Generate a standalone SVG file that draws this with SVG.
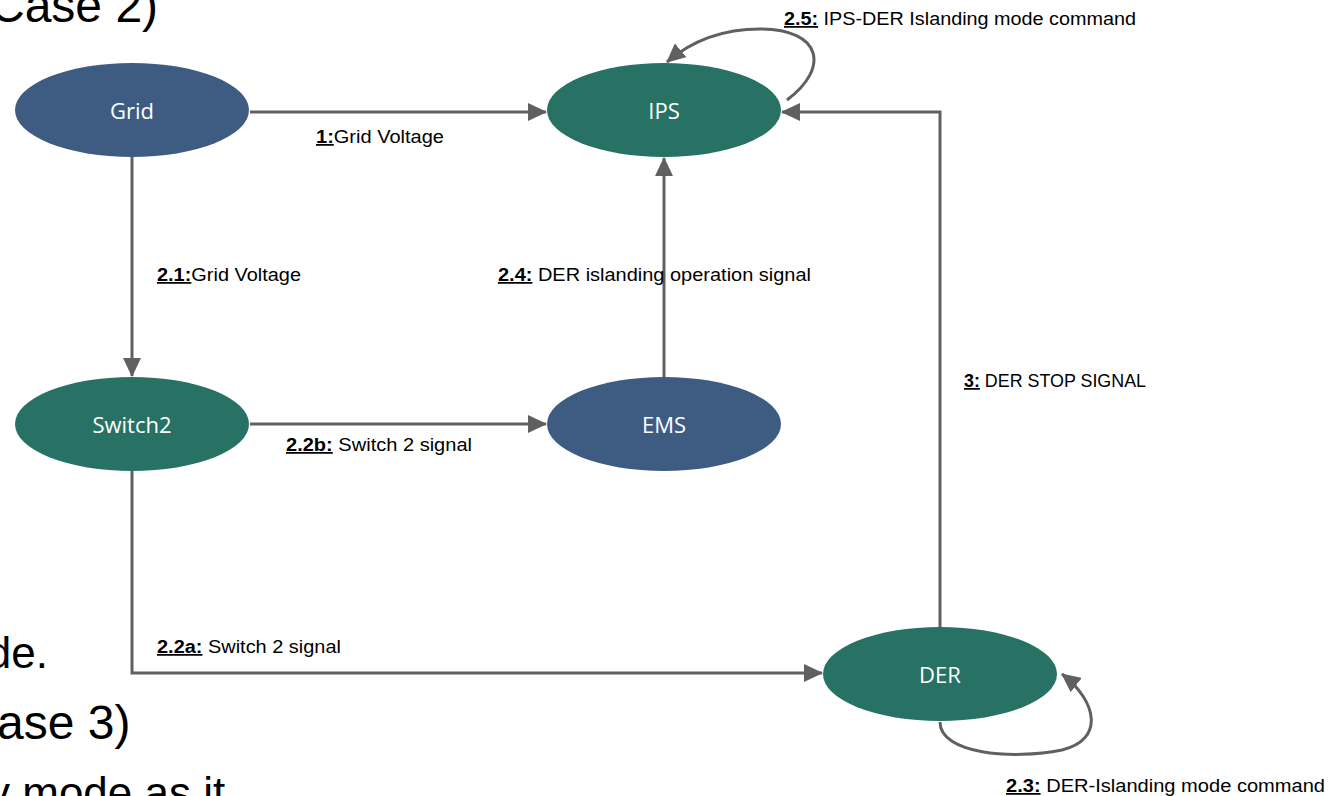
<svg xmlns="http://www.w3.org/2000/svg" width="1332" height="796" viewBox="0 0 1332 796">
  <style>
    .bg { font-family: "Liberation Sans", Arial, sans-serif; font-size: 48px; fill: #000; }
    .node-blue { fill: #3E5C82; }
    .node-green { fill: #287165; }
    .node-text { font-family: "Open Sans", "Liberation Sans", sans-serif; font-size: 22px; fill: #fff; text-anchor: middle; dominant-baseline: central; }
    .edge { fill: none; stroke: #606060; stroke-width: 3; }
    .lbl { font-family: "Liberation Sans", Arial, sans-serif; font-size: 17.5px; fill: #000; }
    .num { font-weight: bold; text-decoration: underline; }
  </style>
  <defs>
    <marker id="arrow" markerUnits="userSpaceOnUse" markerWidth="20" markerHeight="18" refX="18" refY="9" orient="auto">
      <path d="M0,0 L19,9 L0,18 Z" fill="#606060"/>
    </marker>
  </defs>
  <rect width="1332" height="796" fill="#fff"/>

  <!-- slide text behind the diagram -->
  <g id="slide-text">
    <text class="bg" x="-10" y="22">Case 2)</text>
    <text class="bg" x="48" y="668" text-anchor="end" style="font-size:44px">de.</text>
    <text class="bg" x="-3" y="739">ase 3)</text>
    <text class="bg" x="-12" y="808" style="font-size:44px">y mode as it</text>
  </g>

  <!-- connectors -->
  <g id="connectors">
    <path class="edge" d="M250,112 L546,112" marker-end="url(#arrow)"/>
    <path class="edge" d="M132,157 L132,376" marker-end="url(#arrow)"/>
    <path class="edge" d="M250,424 L546,424" marker-end="url(#arrow)"/>
    <path class="edge" d="M132,471 L132,673 L822,673" marker-end="url(#arrow)"/>
    <path class="edge" d="M664,377 L664,158" marker-end="url(#arrow)"/>
    <path class="edge" d="M940,627 L940,112 L782,112" marker-end="url(#arrow)"/>
    <path class="edge" d="M787,100 C830,68 822,29 760,29 C718,29 688,44 667,62" marker-end="url(#arrow)"/>
    <path class="edge" d="M940,722 C940,754 1012,760 1062,750 C1104,740 1098,702 1062,674" marker-end="url(#arrow)"/>

    <text class="lbl" x="316" y="143" textLength="128" lengthAdjust="spacingAndGlyphs"><tspan class="num">1:</tspan>Grid Voltage</text>
    <text class="lbl" x="157" y="281" textLength="144" lengthAdjust="spacingAndGlyphs"><tspan class="num">2.1:</tspan>Grid Voltage</text>
    <text class="lbl" x="286" y="451" textLength="186" lengthAdjust="spacingAndGlyphs"><tspan class="num">2.2b:</tspan> Switch 2 signal</text>
    <text class="lbl" x="157" y="653" textLength="184" lengthAdjust="spacingAndGlyphs"><tspan class="num">2.2a:</tspan> Switch 2 signal</text>
    <text class="lbl" x="498" y="281" textLength="313" lengthAdjust="spacingAndGlyphs"><tspan class="num">2.4:</tspan> DER islanding operation signal</text>
    <text class="lbl" x="964" y="387" textLength="182" lengthAdjust="spacingAndGlyphs"><tspan class="num">3:</tspan> DER STOP SIGNAL</text>
    <text class="lbl" x="784" y="25" textLength="352" lengthAdjust="spacingAndGlyphs"><tspan class="num">2.5:</tspan> IPS-DER Islanding mode command</text>
    <text class="lbl" x="1006" y="792" textLength="319" lengthAdjust="spacingAndGlyphs"><tspan class="num">2.3:</tspan> DER-Islanding mode command</text>
  </g>

  <!-- nodes -->
  <g id="grid">
    <ellipse class="node-blue" cx="132" cy="110" rx="117" ry="47"/>
    <text class="node-text" x="132" y="110">Grid</text>
  </g>
  <g id="ips">
    <ellipse class="node-green" cx="664" cy="110" rx="117" ry="47"/>
    <text class="node-text" x="664" y="110">IPS</text>
  </g>
  <g id="switch2">
    <ellipse class="node-green" cx="132" cy="424" rx="117" ry="47"/>
    <text class="node-text" x="132" y="424">Switch2</text>
  </g>
  <g id="ems">
    <ellipse class="node-blue" cx="664" cy="424" rx="117" ry="47"/>
    <text class="node-text" x="664" y="424">EMS</text>
  </g>
  <g id="der">
    <ellipse class="node-green" cx="940" cy="674" rx="117" ry="47"/>
    <text class="node-text" x="940" y="674">DER</text>
  </g>
</svg>
